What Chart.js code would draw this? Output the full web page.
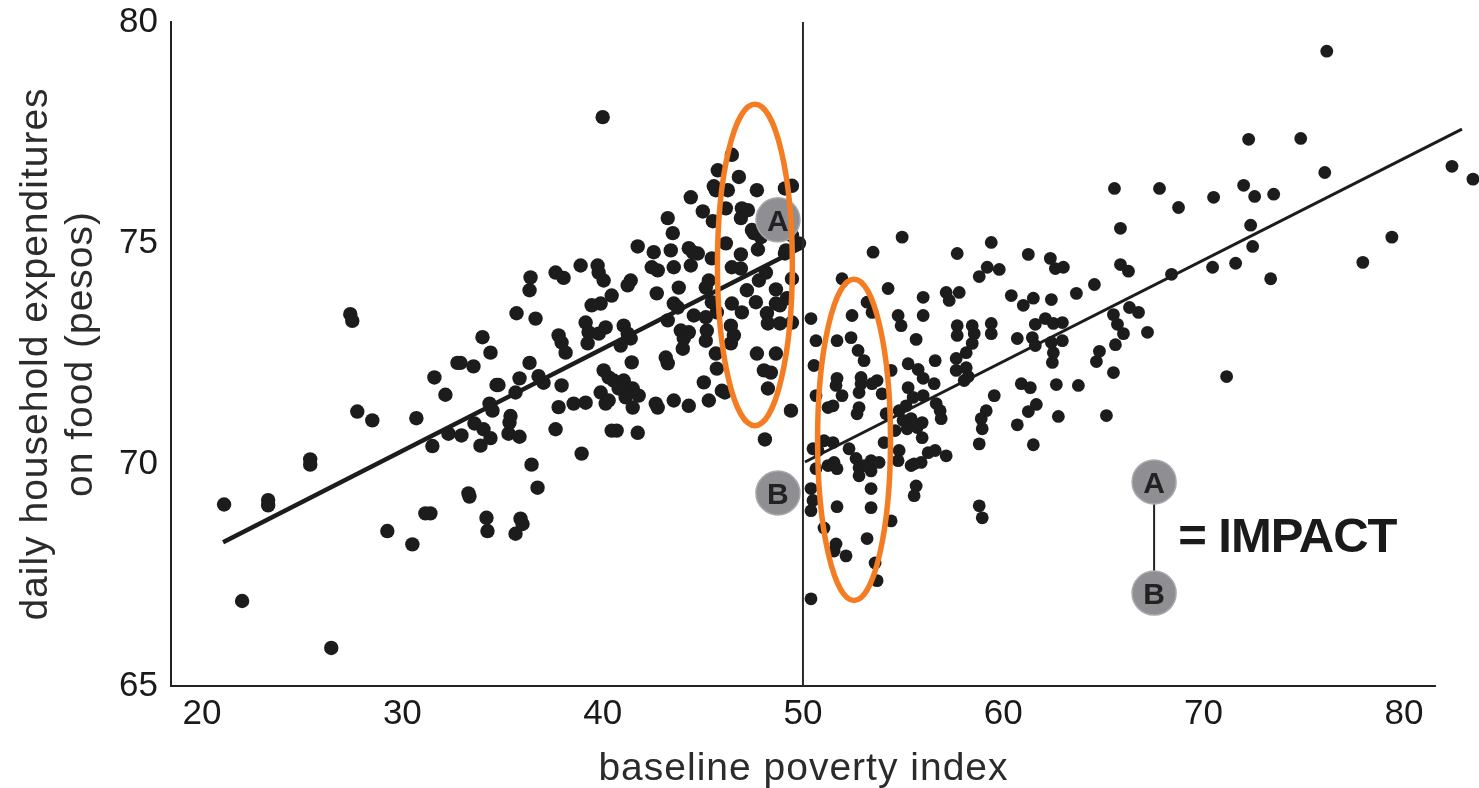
<!DOCTYPE html>
<html>
<head>
<meta charset="utf-8">
<script src="https://cdn.jsdelivr.net/npm/chart.js@4.4.1/dist/chart.umd.min.js"></script>
<style>
  html,body{margin:0;padding:0;background:#fff;}
  #wrap{width:1479px;height:788px;}
</style>
</head>
<body>
<div id="wrap"><canvas id="c" width="1479" height="788"></canvas></div>
<script>
// ---------------- DATA ----------------
const xTicks = [20, 30, 40, 50, 60, 70, 80];
const yTicks = [65, 70, 75, 80];
const xAxisSpan = [18.45, 81.6];   // drawn extent of the x axis line
const xTitle = "baseline poverty index";
const yTitle = ["daily household expenditures", "on food (pesos)"];
const cutoff = 50;

// households below the cutoff (eligible) : [poverty index, expenditure]
const leftGroup = [
 [21.1,69.1],[22.0,66.92],[23.3,69.2],[23.3,69.08],[25.4,70.12],[25.4,70.0],[26.45,65.86],[27.4,73.4],[27.5,73.25],
 [27.75,71.2],[28.5,71.0],[29.25,68.5],[30.5,68.2],[30.7,71.05],[31.15,68.9],[31.4,68.9],[31.5,70.42],[31.6,71.97],
 [32.15,71.58],[32.95,70.66],[33.3,69.35],[33.35,69.28],[34.2,68.8],[34.25,68.5],[34.0,72.88],[34.4,72.53],[32.75,72.3],
 [32.9,72.3],[33.55,72.22],[36.4,74.23],[36.35,73.94],[37.65,74.34],[38.05,74.22],[35.7,73.42],[36.65,73.3],[36.35,72.3],
 [37.8,72.92],[37.95,72.76],[38.15,72.53],[34.7,71.8],[34.8,71.8],[35.85,71.95],[35.65,71.63],[36.8,72.0],[37.05,71.85],
 [37.95,71.79],[34.35,71.38],[34.5,71.22],[35.4,71.1],[35.35,70.95],[37.8,71.3],[37.65,70.8],[33.6,70.93],[34.05,70.8],
 [34.4,70.6],[33.9,70.43],[32.3,70.7],[35.3,70.7],[35.85,70.63],[36.45,70.0],
 [46.45,77.0],[46.8,76.5],[45.75,76.65],[45.55,76.29],[45.65,76.2],[46.25,76.2],[47.7,76.2],[49.45,76.3],[49.1,76.24],
 [44.4,76.04],[45.0,75.72],[46.15,75.79],[46.95,75.79],[47.25,75.75],[46.9,75.57],[43.25,75.57],[45.5,75.5],[43.5,75.23],
 [47.55,75.23],[47.9,75.14],[41.75,74.93],[42.55,74.8],[43.4,74.84],[44.3,74.89],[44.5,74.8],[44.75,74.77],[46.15,75.0],
 [46.9,74.75],[47.75,74.86],[49.15,74.84],[49.8,75.0],[38.9,74.5],[39.75,74.5],[39.8,74.34],[42.45,74.46],[42.75,74.39],
 [43.55,74.46],[44.4,74.5],[40.05,74.16],[41.4,74.16],[41.25,74.05],[46.45,74.46],[46.9,74.43],[45.3,74.16],[48.15,74.34],
 [47.8,74.16],[49.45,74.2],[40.45,73.82],[39.9,73.64],[39.45,73.6],[42.7,73.87],[43.8,74.0],[45.15,74.0],[46.45,73.64],
 [47.65,73.67],[48.65,73.64],[49.2,73.76],[43.55,73.64],[47.2,73.94],[40.0,77.85],[45.45,74.66],[47.45,75.3],[49.45,75.18],
 [48.65,73.96],[46.95,73.44],[48.2,73.42],[48.25,73.19],[48.85,73.19],[49.1,74.77],
 [39.15,73.21],[39.3,72.99],[40.15,73.1],[39.8,72.96],[41.05,73.14],[41.25,72.96],[41.4,72.85],[39.25,72.74],[40.9,72.69],
 [43.25,73.26],[43.75,73.55],[44.55,73.37],[43.9,73.03],[44.3,72.99],[44.05,72.85],[44.0,72.62],[45.15,73.33],[45.2,73.03],
 [45.15,72.8],[45.45,73.67],[45.7,73.44],[46.4,73.14],[46.55,72.92],[46.4,72.74],[48.85,73.6],[49.45,73.21],[45.65,72.51],
 [45.7,72.17],[45.95,71.67],[47.7,72.51],[48.65,72.51],[48.05,72.13],[48.4,72.08],[48.25,71.72],[49.4,71.22],[48.1,70.57],
 [41.45,72.31],[43.15,72.42],[43.25,72.29],[40.05,72.13],[40.3,71.97],[40.55,71.9],[41.05,71.9],[41.25,71.74],[40.8,71.72],
 [41.5,71.72],[41.8,71.56],[39.9,71.63],[40.3,71.45],[41.15,71.52],[41.5,71.29],[38.55,71.38],[39.15,71.4],[40.15,71.38],
 [42.65,71.38],[42.75,71.29],[43.55,71.45],[44.3,71.33],[45.05,71.86],[45.3,71.45],[40.45,70.77],[40.7,70.77],[41.75,70.72],
 [38.95,70.25],[35.9,68.78],[36.0,68.66],[35.65,68.44],[36.75,69.48],[46.1,71.63]
];

// households above the cutoff (not eligible)
const rightGroup = [
 [54.95,75.14],[53.5,74.8],[51.95,74.2],[54.25,73.98],[53.2,73.67],[53.45,73.44],[52.45,73.37],[50.4,73.3],[54.75,73.37],
 [54.9,73.14],[56.0,73.78],[57.15,73.89],[57.3,73.71],[57.8,73.89],[57.7,74.77],[59.4,75.02],[59.2,74.46],[58.8,74.25],
 [56.0,73.37],[55.65,72.83],[50.65,72.8],[51.7,72.8],[52.4,72.87],[52.75,72.58],[53.05,72.35],[50.55,72.24],[57.7,73.14],
 [57.7,72.92],[58.45,73.14],[58.55,72.96],[58.45,72.74],[58.15,72.53],[57.65,72.4],[57.65,72.13],[58.15,72.19],[59.4,73.19],
 [59.4,72.96],[56.6,72.35],[55.25,72.28],[55.75,72.15],[56.0,71.95],[56.55,71.83],[54.4,72.13],[53.7,71.9],[53.45,71.83],
 [52.9,71.97],[52.9,71.83],[51.7,71.95],[51.65,71.79],[58.25,71.99],[58.05,71.9],[50.65,71.56],[51.95,71.56],[51.5,71.33],
 [51.25,71.29],[52.8,71.63],[52.8,71.29],[52.7,71.15],[53.95,71.6],[55.25,71.74],[56.0,71.56],[55.5,71.52],[55.15,71.33],
 [56.65,71.38],[56.85,71.22],[56.9,71.04],[54.8,71.22],[55.0,71.0],[55.4,71.04],[55.95,70.95],[55.2,70.81],[55.7,70.84],
 [55.95,70.61],[54.15,71.15],[54.6,70.77],[59.55,71.56],[59.15,71.22],[58.9,71.04],[58.95,70.81],[58.8,70.47],[56.6,70.32],
 [56.25,70.27],[57.15,70.2],[54.8,70.32],[54.75,70.09],[55.55,70.02],[55.9,70.05],[55.4,69.98],[55.65,69.52],[55.55,69.3],
 [54.05,70.5],[52.3,70.36],[52.65,70.14],[52.8,69.93],[52.8,69.75],[53.4,70.09],[53.8,70.05],[53.4,69.86],[53.05,69.98],
 [51.55,70.05],[51.25,69.98],[51.7,69.91],[50.65,69.91],[51.5,70.5],[51.05,70.54],[50.5,70.36],[50.75,70.32],[50.4,69.46],
 [50.5,69.19],[50.4,68.96],[51.7,69.05],[53.4,69.46],[53.4,69.03],[54.4,68.73],[51.05,68.57],[51.65,68.21],[51.55,68.05],
 [52.15,67.94],[53.2,68.33],[53.6,67.78],[53.7,67.38],[50.4,66.97],[58.8,69.07],[58.95,68.8],
 [65.55,76.24],[67.8,76.24],[68.75,75.81],[65.85,75.34],[61.25,74.75],[62.35,74.66],[62.6,74.43],[63.0,74.46],[59.8,74.41],
 [65.85,74.52],[66.25,74.37],[68.4,74.3],[64.55,74.07],[63.65,73.87],[60.4,73.82],[61.5,73.76],[61.0,73.6],[62.4,73.73],
 [61.6,73.17],[62.1,73.3],[62.5,73.19],[62.95,73.21],[60.7,72.85],[61.45,72.87],[61.6,72.69],[62.4,72.76],[62.95,72.8],
 [62.5,72.53],[62.45,72.31],[65.5,73.39],[65.7,73.17],[66.0,72.96],[66.3,73.55],[66.75,73.44],[67.2,72.99],[65.6,72.71],
 [64.8,72.56],[64.65,72.33],[65.5,72.08],[60.9,71.83],[61.35,71.74],[62.65,71.81],[63.75,71.79],[61.65,71.36],[61.25,71.2],
 [62.75,71.09],[65.15,71.11],[60.7,70.9],[61.5,70.45],
 [76.15,79.34],[72.25,77.35],[74.85,77.37],[82.4,76.74],[83.45,76.45],[76.05,76.6],[70.5,76.04],[72.0,76.31],[72.55,76.06],
 [73.5,76.11],[72.35,75.41],[72.45,74.93],[79.4,75.14],[77.95,74.57],[70.45,74.46],[71.6,74.55],[73.35,74.2],[71.15,71.99]
];

// fitted regression lines on each side of the cutoff
const fitLeft  = [[21.05, 68.25], [49.85, 74.89]];
const fitRight = [[50.1, 70.06], [82.9, 77.58]];

// annotation markers
const markerLabels = ["A", "B", "A", "B"];
const markerPoints = [[48.75, 75.53], [48.75, 69.36], [67.53, 69.61], [67.53, 67.10]];
const impactLabel = "= IMPACT";
const impactAnchor = [68.73, 68.03];
// highlight ellipses: [centre x, centre y, half-width, half-height] in data units
const ellipses = [[47.6, 74.51, 1.87, 3.63], [52.55, 70.56, 1.82, 3.63]];

// ---------------- CHART ----------------
const toXY = a => a.map(p => ({x: p[0], y: p[1]}));
const INK = '#1c1c1c';
const FONT = '"Liberation Sans", Arial, Helvetica, sans-serif';

const overlay = {
  id: 'overlay',
  afterDatasetsDraw(chart) {
    const {ctx, scales: {x, y}} = chart;
    ctx.save();
    ctx.strokeStyle = '#F47C22';
    ctx.lineWidth = 5.5;
    ellipses.forEach(e => {
      const cx = x.getPixelForValue(e[0]), cy = y.getPixelForValue(e[1]);
      const rx = Math.abs(x.getPixelForValue(e[0] + e[2]) - cx);
      const ry = Math.abs(y.getPixelForValue(e[1] + e[3]) - cy);
      ctx.beginPath();
      ctx.ellipse(cx, cy, rx, ry, 0, 0, Math.PI * 2);
      ctx.stroke();
    });
    ctx.fillStyle = '#222';
    ctx.font = 'bold 30px ' + FONT;
    ctx.textAlign = 'center';
    ctx.textBaseline = 'alphabetic';
    markerPoints.forEach((p, i) => {
      ctx.fillText(markerLabels[i], x.getPixelForValue(p[0]), y.getPixelForValue(p[1]) + 11);
    });
    ctx.restore();
  },
  afterDraw(chart) {
    const {ctx, chartArea: a, scales: {x, y}} = chart;
    ctx.save();
    // impact label
    ctx.fillStyle = '#1a1a1a';
    ctx.font = 'bold 49px ' + FONT;
    ctx.letterSpacing = '-1px';
    ctx.textAlign = 'left';
    ctx.textBaseline = 'alphabetic';
    ctx.fillText(impactLabel, x.getPixelForValue(impactAnchor[0]), y.getPixelForValue(impactAnchor[1]));
    // axis titles
    ctx.fillStyle = '#2b2b2b';
    ctx.font = '39px ' + FONT;
    ctx.letterSpacing = '1px';
    ctx.textAlign = 'center';
    const xMid = (x.getPixelForValue(xAxisSpan[0]) + x.getPixelForValue(xAxisSpan[1])) / 2;
    ctx.fillText(xTitle, xMid, a.bottom + 94);
    const cy = (a.top + a.bottom) / 2;
    [47, 92].forEach((bx, i) => {
      ctx.save();
      ctx.translate(bx, cy);
      ctx.rotate(-Math.PI / 2);
      ctx.fillText(yTitle[i], 0, 0);
      ctx.restore();
    });
    ctx.restore();
  }
};

const noPad = s => { s.paddingTop = 0; s.paddingBottom = 0; s.paddingLeft = 0; s.paddingRight = 0; };

new Chart(document.getElementById('c'), {
  type: 'scatter',
  data: {
    datasets: [
      { // markers A / B (on top)
        data: toXY(markerPoints), order: 0, clip: false,
        pointRadius: 22, pointBackgroundColor: '#8e8e93',
        pointBorderColor: '#a9a9ad', pointBorderWidth: 1.5, showLine: false
      },
      { // connector of the impact legend
        data: toXY([markerPoints[2], markerPoints[3]]), order: 1, showLine: true,
        borderColor: '#222', borderWidth: 2, pointRadius: 0, clip: false
      },
      {
        data: toXY(fitLeft), order: 2, showLine: true, borderColor: INK,
        borderWidth: 4.5, pointRadius: 0, clip: false
      },
      {
        data: toXY(fitRight), order: 3, showLine: true, borderColor: INK,
        borderWidth: 3, pointRadius: 0, clip: false
      },
      {
        data: toXY([[cutoff, 65], [cutoff, 80]]), order: 4, showLine: true,
        borderColor: '#2a2a2a', borderWidth: 2, pointRadius: 0, clip: false
      },
      { // x axis baseline
        data: toXY([[xAxisSpan[0], 65], [xAxisSpan[1], 65]]), order: 5, showLine: true,
        borderColor: '#222', borderWidth: 2, pointRadius: 0, clip: false
      },
      {
        data: toXY(leftGroup), order: 6, pointRadius: 7.2, pointBackgroundColor: INK,
        pointBorderWidth: 0, clip: false
      },
      {
        data: toXY(rightGroup), order: 7, pointRadius: 6.4, pointBackgroundColor: INK,
        pointBorderWidth: 0, clip: false
      }
    ]
  },
  options: {
    responsive: false,
    devicePixelRatio: 1,
    animation: false,
    events: [],
    layout: { autoPadding: false, padding: { top: 22, right: 1, bottom: 0, left: 0 } },
    plugins: { legend: { display: false }, tooltip: { enabled: false } },
    scales: {
      x: {
        type: 'linear', min: 18.45, max: 83.7,
        afterBuildTicks: s => { s.ticks = xTicks.map(v => ({value: v})); },
        afterFit: s => { s.height = 102; noPad(s); },
        grid: { display: false, drawTicks: false },
        border: { display: false },
        ticks: { color: '#1a1a1a', padding: 7, font: { size: 35, family: FONT } }
      },
      y: {
        type: 'linear', min: 65, max: 80,
        afterBuildTicks: s => { s.ticks = yTicks.map(v => ({value: v})); },
        afterFit: s => { s.width = 171; noPad(s); },
        grid: { display: false, drawTicks: false },
        border: { display: true, color: '#222', width: 2 },
        ticks: { color: '#1a1a1a', padding: 13, font: { size: 35, family: FONT } }
      }
    }
  },
  plugins: [overlay]
});
</script>
</body>
</html>
